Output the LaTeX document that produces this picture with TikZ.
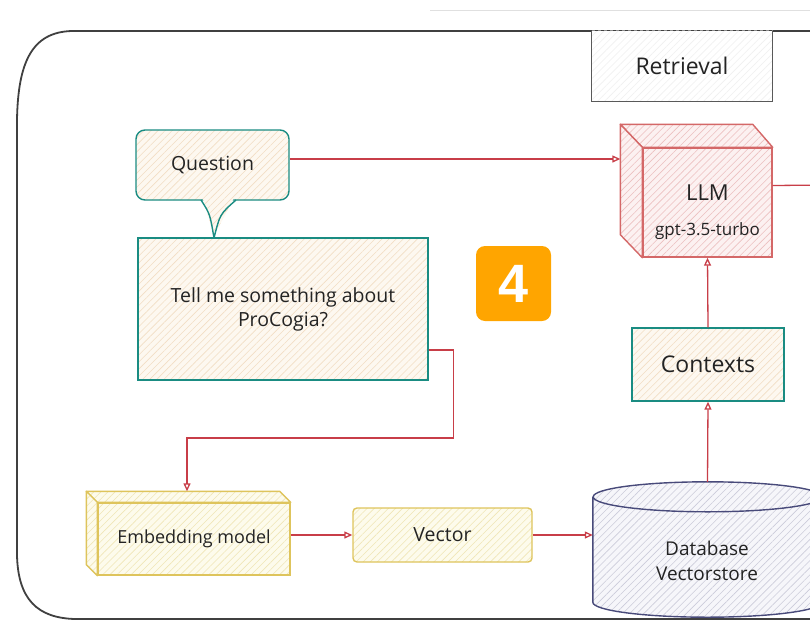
\documentclass[tikz,border=0pt]{standalone}
\usepackage{fontspec}
\setmainfont{Open Sans}
\usetikzlibrary{arrows.meta,patterns.meta,calc}
\definecolor{tinta}{RGB}{35,35,35}
\definecolor{verde}{RGB}{26,140,130}
\definecolor{rojo}{RGB}{200,62,72}
\definecolor{rojollm}{RGB}{212,104,104}
\definecolor{oro}{RGB}{222,196,92}
\definecolor{pizarra}{RGB}{72,74,122}
\definecolor{crema}{RGB}{253,248,240}
\definecolor{cremaraya}{RGB}{242,222,196}
\definecolor{rosa}{RGB}{252,241,241}
\definecolor{rosaraya}{RGB}{236,192,192}
\definecolor{limon}{RGB}{253,251,236}
\definecolor{limonraya}{RGB}{240,230,182}
\definecolor{lila}{RGB}{246,246,250}
\definecolor{lilaraya}{RGB}{204,204,218}
\definecolor{naranja}{RGB}{255,165,0}
\begin{document}
\begin{tikzpicture}[x=1pt,y=-1pt,
    every node/.style={font=\fontsize{19.5}{24}\selectfont,text=tinta,inner sep=0pt},
    caja/.style={draw=#1,line width=1.4pt},
    rayado/.style 2 args={preaction={fill=#1},
        preaction={pattern={Lines[angle=45,distance=5pt,line width=.6pt]},pattern color=#2}},
    flecha/.style={draw=rojo,line width=1.3pt,-{Triangle[open,length=8pt,width=7pt]}}]
    \useasboundingbox (0,0) rectangle (810,621);
    \clip (0,0) rectangle (810,621);

    % Marco exterior.
    \draw[black!12,line width=.8pt] (430,10) -- (830,10);
    \draw[black!75,line width=1.8pt] (830,31) -- (72,31)
        .. controls (32,32) and (18,62) .. (17,120) -- (17,555)
        .. controls (18,600) and (38,618) .. (75,619) -- (830,619);

    % Etiqueta de la etapa.
    \node[rayado={white}{black!6},minimum width=180pt,minimum height=70pt] (retr) at (682,66) {};
    \draw[black!65,line width=1.3pt] (retr.north west) -- (retr.south west) -- (retr.south east) -- (retr.north east);
    \draw[black!45,line width=.8pt,dashed] (retr.north west) -- (retr.north east);
    \node[font=\fontsize{23}{26}\selectfont] (retrtxt) at (retr.center) {Retrieval};

    % Pregunta y globo.
    \node[caja=verde,rayado={crema}{cremaraya},rounded corners=9pt,
        minimum width=153pt,minimum height=70pt] (question) at (212.5,165) {Question};
    \path[rayado={crema}{cremaraya}] (202,196) -- (214,236) -- (235,196) -- cycle;
    \draw[verde,line width=1.4pt] (201,200) .. controls (210,214) .. (214,238)
        .. controls (220,214) .. (236,200);
    \node[caja=verde,rayado={crema}{cremaraya},minimum width=290pt,minimum height=142pt,
        align=center] (tell) at (283,309) {Tell me something about\\ProCogia?};

    % Cubo del LLM.
    \node[caja=rojollm,rayado={rosa}{rosaraya},minimum width=129pt,minimum height=109pt] (llm) at (707.5,202.5) {};
    \coordinate (llmA) at ($(llm.north west)+(-22,-23)$);
    \coordinate (llmB) at ($(llm.north east)+(-20,-23)$);
    \coordinate (llmC) at ($(llm.south west)+(-22,-23)$);
    \path[caja=rojollm,rayado={rosa}{rosaraya},line join=round] (llm.north west) -- (llmA) -- (llmB) -- (llm.north east) -- cycle;
    \path[caja=rojollm,rayado={rosa}{rosaraya},line join=round] (llm.north west) -- (llmA) -- (llmC) -- (llm.south west) -- cycle;
    \node[font=\fontsize{22}{24}\selectfont] (llmtxt) at ([yshift=10pt]llm.center) {LLM};
    \node[font=\fontsize{17}{20}\selectfont] (gpt) at ([yshift=-29pt]llm.center) {gpt-3.5-turbo};

    \node[caja=verde,rayado={crema}{cremaraya},minimum width=152pt,minimum height=73pt,
        font=\fontsize{23}{26}\selectfont] (ctx) at (708,364.5) {Contexts};

    % Modelo de embeddings y vector.
    \node[caja=oro,rayado={limon}{limonraya},minimum width=192pt,minimum height=72pt,
        font=\fontsize{18}{22}\selectfont] (emb) at (194,539) {Embedding model};
    \coordinate (embA) at ($(emb.north west)+(-11,-11)$);
    \coordinate (embB) at ($(emb.north east)+(-11,-11)$);
    \coordinate (embC) at ($(emb.south west)+(-11,-11)$);
    \path[caja=oro,rayado={limon}{limonraya},line join=round] (emb.north west) -- (embA) -- (embB) -- (emb.north east) -- cycle;
    \path[caja=oro,rayado={limon}{limonraya},line join=round] (emb.north west) -- (embA) -- (embC) -- (emb.south west) -- cycle;
    \node[caja=oro,rayado={limon}{limonraya},rounded corners=4pt,minimum width=179pt,
        minimum height=54pt] (vec) at (442.5,535) {Vector};

    % Cilindro de la base de datos.
    \node[minimum width=229pt,minimum height=105pt] (db) at (707.5,549.5) {};
    \path[rayado={lila}{lilaraya}] (db.north west) -- (db.south west)
        arc[start angle=180,end angle=360,x radius=114.5pt,y radius=15pt] -- (db.north east)
        arc[start angle=0,end angle=180,x radius=114.5pt,y radius=15pt] -- cycle;
    \draw[pizarra,line width=1.4pt] (db.north west) -- (db.south west)
        arc[start angle=180,end angle=360,x radius=114.5pt,y radius=15pt] -- (db.north east)
        arc[start angle=0,end angle=180,x radius=114.5pt,y radius=15pt]
        arc[start angle=180,end angle=360,x radius=114.5pt,y radius=15pt];
    \node[align=center,font=\fontsize{19}{25}\selectfont] (dbtxt) at (707,561) {Database\\Vectorstore};

    % Numero de paso.
    \node[fill=naranja,rounded corners=9pt,minimum size=75pt,text=white,
        font=\fontsize{54}{54}\selectfont\bfseries\fontspec{Liberation Sans}] (paso) at (513.5,283.5) {4};

    % Conexiones.
    \coordinate (salida) at (830,185);
    \draw[flecha] ([yshift=6pt]question.east) -- ([yshift=6pt]question.east -| llmA);
    \draw[draw=rojo,line width=1.3pt] ([yshift=17pt]llm.east) -- (salida);
    \draw[flecha] (ctx.north) -- (llm.south);
    \draw[flecha] ([yshift=15pt]db.north) -- (ctx.south);
    \draw[flecha] ([yshift=-41pt]tell.east) -- ++(25,0) -- ++(0,88) -| ([shift={(-7,-11)}]emb.north);
    \draw[flecha] (emb.east |- vec.west) -- (vec.west);
    \draw[flecha] (vec.east) -- (vec.east -| db.west);
\end{tikzpicture}
\end{document}
